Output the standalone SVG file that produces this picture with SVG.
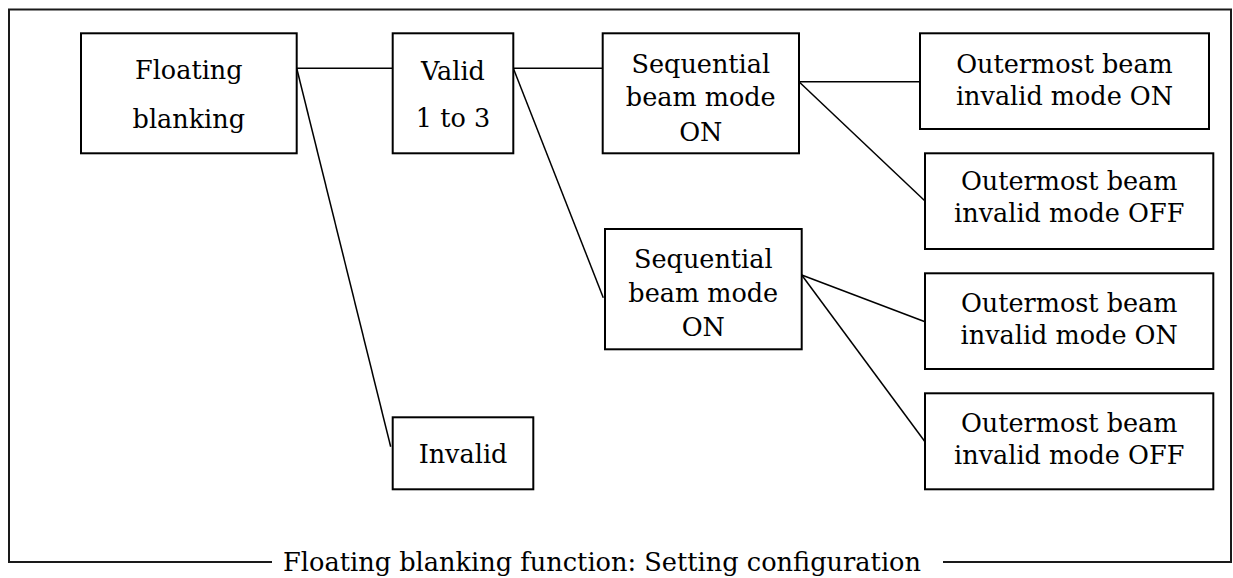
<svg xmlns="http://www.w3.org/2000/svg" width="1233" height="578" viewBox="0 0 1233 578">
<style>
  .box { fill: #ffffff; stroke: #000000; stroke-width: 2; }
  .conn line { stroke: #000000; stroke-width: 1.5; fill: none; }
  .frame { fill: none; stroke: #1a1a1a; stroke-width: 2; }
  text { font-family: "DejaVu Serif", "Liberation Serif", serif; font-size: 25.5px; fill: #000000; text-anchor: middle; }
</style>
<rect x="0" y="0" width="1233" height="578" fill="#ffffff"/>
<path class="frame" d="M272,562 H9 V9.5 H1231 V562 H943"/>
<text id="caption" x="602" y="571" textLength="638" lengthAdjust="spacingAndGlyphs">Floating blanking function: Setting configuration</text>
<g class="conn" id="connectors">
  <line x1="296.7" y1="68.3" x2="392.7" y2="68.3"/>
  <line x1="296.7" y1="68.3" x2="390.7" y2="446.7"/>
  <line x1="513.3" y1="68.3" x2="602.7" y2="68.3"/>
  <line x1="513.3" y1="68.3" x2="603.3" y2="297.7"/>
  <line x1="799" y1="81.7" x2="920" y2="81.7"/>
  <line x1="799" y1="81.7" x2="925" y2="201"/>
  <line x1="801.7" y1="275" x2="925" y2="321.7"/>
  <line x1="801.7" y1="275" x2="925" y2="441.7"/>
</g>
<g id="floating">
  <rect class="box" x="81" y="33.3" width="215.7" height="120"/>
  <text x="188.8" y="79">Floating</text>
  <text x="188.8" y="128">blanking</text>
</g>
<g id="valid">
  <rect class="box" x="392.7" y="33.3" width="120.6" height="120"/>
  <text x="453" y="80">Valid</text>
  <text x="453" y="126.7">1 to 3</text>
</g>
<g id="seq1">
  <rect class="box" x="602.7" y="33.3" width="196.3" height="120"/>
  <text x="700.8" y="72.7">Sequential</text>
  <text x="700.8" y="106">beam mode</text>
  <text x="700.8" y="140.5">ON</text>
</g>
<g id="seq2">
  <rect class="box" x="605" y="229" width="196.7" height="120.3"/>
  <text x="703.3" y="268.4">Sequential</text>
  <text x="703.3" y="301.7">beam mode</text>
  <text x="703.3" y="336.4">ON</text>
</g>
<g id="invalid">
  <rect class="box" x="392.7" y="417.3" width="140.6" height="72"/>
  <text x="463" y="462.7">Invalid</text>
</g>
<g id="on1">
  <rect class="box" x="920" y="33.3" width="289" height="95.7"/>
  <text x="1064.5" y="72.7">Outermost beam</text>
  <text x="1064.5" y="105">invalid mode ON</text>
</g>
<g id="off1">
  <rect class="box" x="925" y="153.3" width="288.3" height="95.7"/>
  <text x="1069.2" y="190">Outermost beam</text>
  <text x="1069.2" y="221.7">invalid mode OFF</text>
</g>
<g id="on2">
  <rect class="box" x="925" y="273.3" width="288.3" height="95.7"/>
  <text x="1069.2" y="311.7">Outermost beam</text>
  <text x="1069.2" y="344">invalid mode ON</text>
</g>
<g id="off2">
  <rect class="box" x="925" y="393.3" width="288.3" height="96"/>
  <text x="1069.2" y="431.7">Outermost beam</text>
  <text x="1069.2" y="464">invalid mode OFF</text>
</g>
</svg>
